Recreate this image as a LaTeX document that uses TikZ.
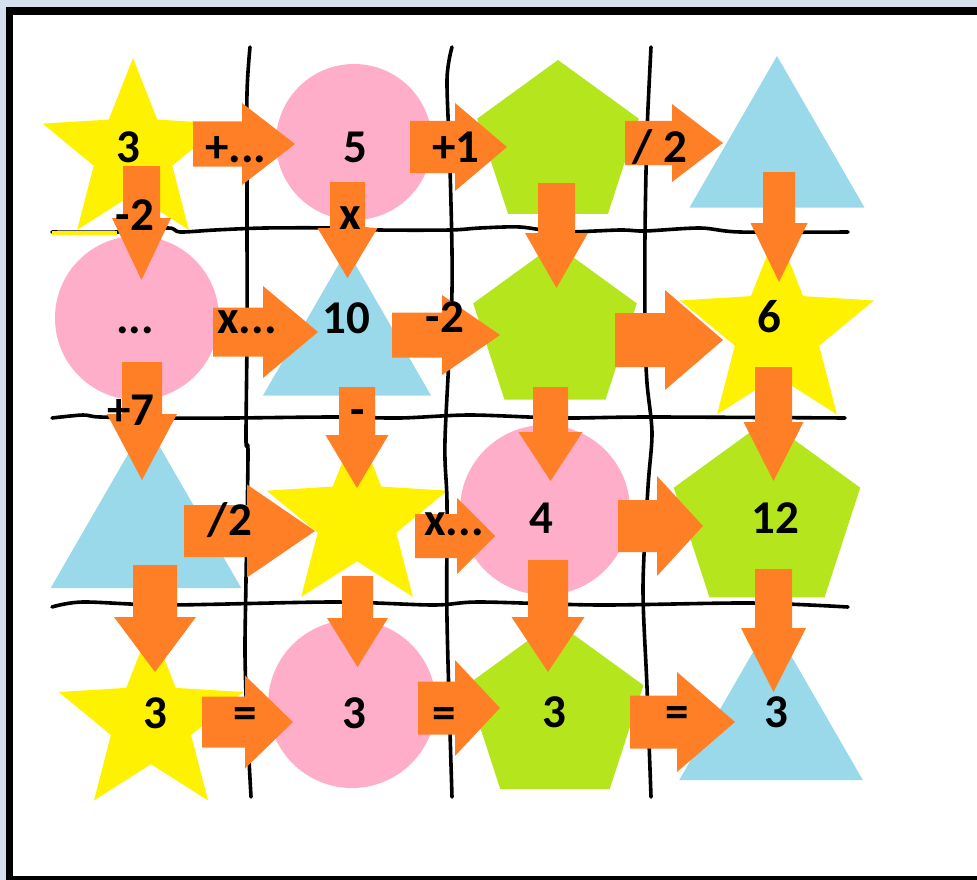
\documentclass[tikz,border=0pt]{standalone}
\usepackage{fontspec}
\setmainfont{Carlito}
\usetikzlibrary{shapes.geometric}

\definecolor{amarelo}{RGB}{255,242,0}
\definecolor{rosa}{RGB}{255,174,201}
\definecolor{verde}{RGB}{181,230,29}
\definecolor{azul}{RGB}{153,217,234}
\definecolor{laranja}{RGB}{255,127,39}
\definecolor{fundo}{RGB}{213,224,238}

% seta larga: x, y da cauda, rotacao, comprimento, meia haste, meia ponta, comprimento da ponta
\newcommand{\setabloco}[7]{%
  \fill[seta, shift={(#1,#2)}, rotate=#3]
    (0,-#5) -- (#4-#7,-#5) -- (#4-#7,-#6) -- (#4,0) -- (#4-#7,#6) -- (#4-#7,#5) -- (0,#5) -- cycle;}

\begin{document}
\begin{tikzpicture}[
            x=1pt, y=-1pt,
            estrela/.style={star, star points=5, star point ratio=2.3, fill=amarelo, inner sep=0pt, minimum size=#1},
            circulo/.style={circle, fill=rosa, inner sep=0pt, minimum size=#1},
            pentagono/.style={regular polygon, regular polygon sides=5, fill=verde, inner sep=0pt, minimum size=#1},
            triangulo/.style={regular polygon, regular polygon sides=3, fill=azul, inner sep=0pt, minimum size=#1},
            linha/.style={line width=3.6pt, line cap=round, line join=round},
            seta/.style={fill=laranja},
            rotulo/.style={font=\bfseries\fontsize{47}{47}\selectfont, inner sep=0pt, anchor=base}
            ]
            \useasboundingbox (0,0) rectangle (977,880);
            
            % moldura
            \fill[fundo] (0,0) rectangle (977,880);
            \fill[black] (6,7) rectangle (977,880);
            \fill[white] (13,15) rectangle (977,876);
            
            % formas
            \node[estrela=190] (est11) at (133,153) {};
            \node[circulo=156] (circ12) at (354,142) {};
            \node[pentagono=170] (pent13) at (558,145) {};
            \node[triangulo=202] (tri14) at (777,157) {};
            
            \node[circulo=164] (circ21) at (137,318) {};
            \node[triangulo=194] (tri22) at (347,347) {};
            \node[pentagono=172] (pent23) at (555,330) {};
            \node[estrela=204] (est24) at (777,332) {};
            
            \node[triangulo=220] (tri31) at (146,533) {};
            \node[estrela=190] (est32) at (357,520) {};
            \node[circulo=170] (circ33) at (545,510) {};
            \node[pentagono=196] (pent34) at (767,518) {};
            
            \node[estrela=194] (est41) at (151,722) {};
            \node[circulo=168] (circ42) at (352,704) {};
            \node[pentagono=186] (pent43) at (555,714) {};
            \node[triangulo=212] (tri44) at (771,727) {};
            
            % grade
            \draw[linha] plot[smooth, tension=0.5] coordinates {(250,47) (247,93) (247,187) (247,333) (246,440) (248,453) (246,580) (245,653) (247,720) (251,797)};
            \draw[linha] plot[smooth, tension=0.5] coordinates {(452,47) (447,80) (450,167) (452,290) (445,440) (447,503) (447,620) (452,797)};
            \draw[linha] plot[smooth, tension=0.5] coordinates {(651,47) (647,133) (645,233) (645,333) (647,383) (652,433) (648,487) (643,587) (647,687) (651,797)};
            \draw[linha] plot[smooth, tension=0.5] coordinates {(52,232) (117,232) (168,228) (180,232) (215,230) (265,228) (340,228) (380,230) (450,230) (480,228) (520,227) (560,232) (620,230) (645,231) (700,228) (740,232) (848,232)};
            \draw[linha] plot[smooth, tension=0.5] coordinates {(52,418) (83,415) (100,417) (167,418) (233,418) (333,417) (400,418) (470,415) (560,418) (650,417) (845,418)};
            \draw[linha] plot[smooth, tension=0.5] coordinates {(52,607) (83,602) (167,605) (333,602) (433,605) (480,602) (600,605) (750,603) (848,607)};
            \draw[amarelo, line width=4pt] (52,233) -- (117,233);
            
            % setas para a direita
            \setabloco{193}{144}{0}{102}{22.5}{41}{53}
            \setabloco{410}{147}{0}{97}{26}{44}{52}
            \setabloco{625}{143}{0}{98}{22}{39}{51}
            \setabloco{213}{332}{0}{105}{24.5}{46}{55}
            \setabloco{392}{335}{0}{108}{22.5}{40}{58}
            \setabloco{615}{340}{0}{108}{27}{50}{58}
            \setabloco{184}{531}{0}{131}{26}{46.5}{68}
            \setabloco{415}{536}{0}{80}{22}{38}{38}
            \setabloco{618}{526}{0}{85}{26}{50}{46}
            \setabloco{202}{722}{0}{91}{25.5}{46.5}{48}
            \setabloco{418}{708}{0}{82}{26.5}{48}{45}
            \setabloco{630}{722}{0}{105}{26.5}{50}{58}
            
            % setas para baixo
            \setabloco{141.5}{166}{-90}{114}{18.5}{29.5}{62}
            \setabloco{142}{362}{-90}{118}{20}{35}{66}
            \setabloco{155}{565}{-90}{107}{22}{41}{55}
            \setabloco{347.5}{182}{-90}{96}{17.5}{30}{50}
            \setabloco{357}{387}{-90}{101}{18}{31.5}{53}
            \setabloco{357.5}{576}{-90}{91}{15.5}{30.5}{49}
            \setabloco{556.5}{183}{-90}{105}{18.5}{31.5}{55}
            \setabloco{550.5}{387}{-90}{94}{17.5}{32}{49}
            \setabloco{548}{560}{-90}{112}{20}{36.5}{55}
            \setabloco{779}{172}{-90}{110}{16}{28.5}{59}
            \setabloco{773.5}{367}{-90}{114}{18.5}{30}{59}
            \setabloco{773.5}{569}{-90}{123}{18.5}{32.5}{64}
            
            % valores
            \node[rotulo] (n11) at (128,163) {3};
            \node[rotulo] (n12) at (355,163) {5};
            \node[rotulo] (n21) at (135,333) {...};
            \node[rotulo] (n22) at (346,333) {10};
            \node[rotulo] (n24) at (769,332) {6};
            \node[rotulo] (n33) at (541,533) {4};
            \node[rotulo] (n34) at (775,533) {12};
            \node[rotulo] (n41) at (155,728) {3};
            \node[rotulo] (n42) at (354,728) {3};
            \node[rotulo] (n43) at (554,727) {3};
            \node[rotulo] (n44) at (776,727) {3};
            
            % operacoes
            \node[rotulo] (op1) at (236,163) {+...};
            \node[rotulo] (op2) at (456,163) {+1};
            \node[rotulo] (op3) at (660,163) {/ 2};
            \node[rotulo] (op4) at (135,230) {-2};
            \node[rotulo] (op5) at (350,229) {x};
            \node[rotulo] (op6) at (247,333) {x...};
            \node[rotulo] (op7) at (445,332) {-2};
            \node[rotulo] (op8) at (131,425) {+7};
            \node[rotulo] (op9) at (358,425) {-};
            \node[rotulo] (op10) at (230,535) {/2};
            \node[rotulo] (op11) at (454,535) {x...};
            \node[rotulo] (op12) at (245,728) {=};
            \node[rotulo] (op13) at (444,728) {=};
            \node[rotulo] (op14) at (677,727) {=};
            
        \end{tikzpicture}
\end{document}
